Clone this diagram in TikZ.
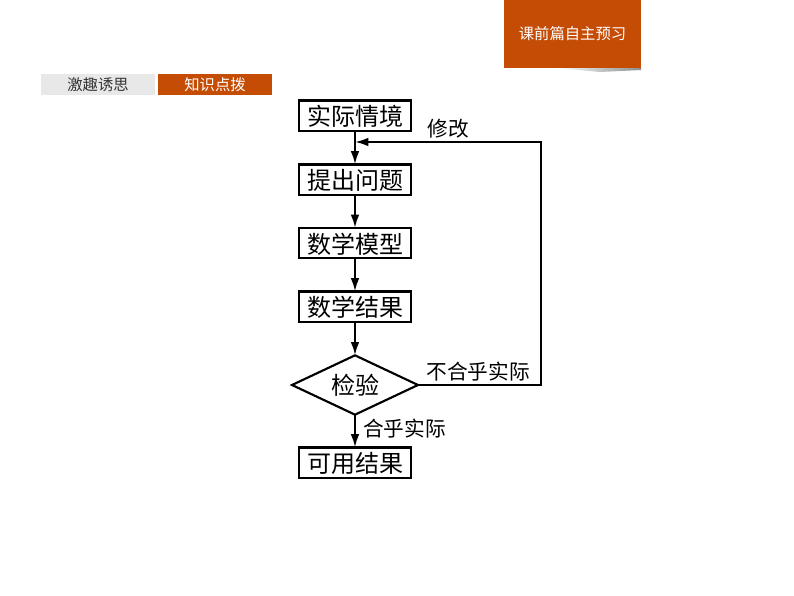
\documentclass[tikz,border=0pt]{standalone}
\usepackage{fontspec}
\setmainfont{Noto Sans CJK SC}
\usetikzlibrary{shapes.geometric,arrows.meta}
\definecolor{rust}{RGB}{197,76,5}
\definecolor{tabgray}{RGB}{232,232,232}

\begin{document}
\begin{tikzpicture}[x=.75pt,y=-.75pt]
   \tikzstyle{every node}=[inner sep=0pt, outer sep=0pt]
   \tikzstyle{tab}=[minimum width=85.5pt, minimum height=15.75pt, font=\fontsize{11.5}{12}\selectfont]
   \tikzstyle{task}=[draw, line width=1.6pt, minimum width=83.6pt, minimum height=22.6pt, text height=16pt, text depth=1pt, font=\fontsize{18}{20}\selectfont]
   \tikzstyle{note}=[font=\fontsize{15.5}{18}\selectfont]
   \tikzstyle{flow}=[line width=1.6pt, -{Latex[length=10pt,width=6.5pt]}]

\useasboundingbox (0,0) rectangle (794,596);

% top right banner
\shade[left color=white, right color=black!45] (556,68) -- (641,68) -- (641,70) -- (600,72) -- cycle;
\node[fill=rust, text=white, minimum width=102.75pt, minimum height=51pt, text height=10pt, text depth=1pt, font=\fontsize{11.5}{12}\selectfont] (banner) at (572.5,34) {课前篇自主预习};

% tabs
\node[tab, fill=tabgray, text=black!80] (tableft) at (98,84.5) {激趣诱思};
\node[tab, fill=rust, text=white] (tabright) at (215,84.5) {知识点拨};

% flow chart
\node[task] (situation) at (355,115.5) {实际情境};
\node[task] (problem) at (355,179.5) {提出问题};
\node[task] (model) at (355,243) {数学模型};
\node[task] (result) at (355,306.5) {数学结果};
\node[draw, line width=1.6pt, diamond, aspect=2.13, minimum width=94.5pt, minimum height=44.5pt, font=\fontsize{18}{20}\selectfont] (check) at (355,385) {检验};
\node[task] (usable) at (355,462.5) {可用结果};

\coordinate (join) at (355,142);
\coordinate (cornerlow) at (541,385);
\coordinate (cornerup) at (541,142);

\draw[flow] (situation) -- (problem);
\draw[flow] (problem) -- (model);
\draw[flow] (model) -- (result);
\draw[flow] (result) -- (check);
\draw[flow] (check) -- (usable);
\draw[flow] (check.east) -- (cornerlow) -- (cornerup) -- (join);

\node[note] (fix) at (448,129) {修改};
\node[note] (bad) at (478,371.5) {不合乎实际};
\node[note] (good) at (404.5,428.5) {合乎实际};

\end{tikzpicture}
\end{document}
